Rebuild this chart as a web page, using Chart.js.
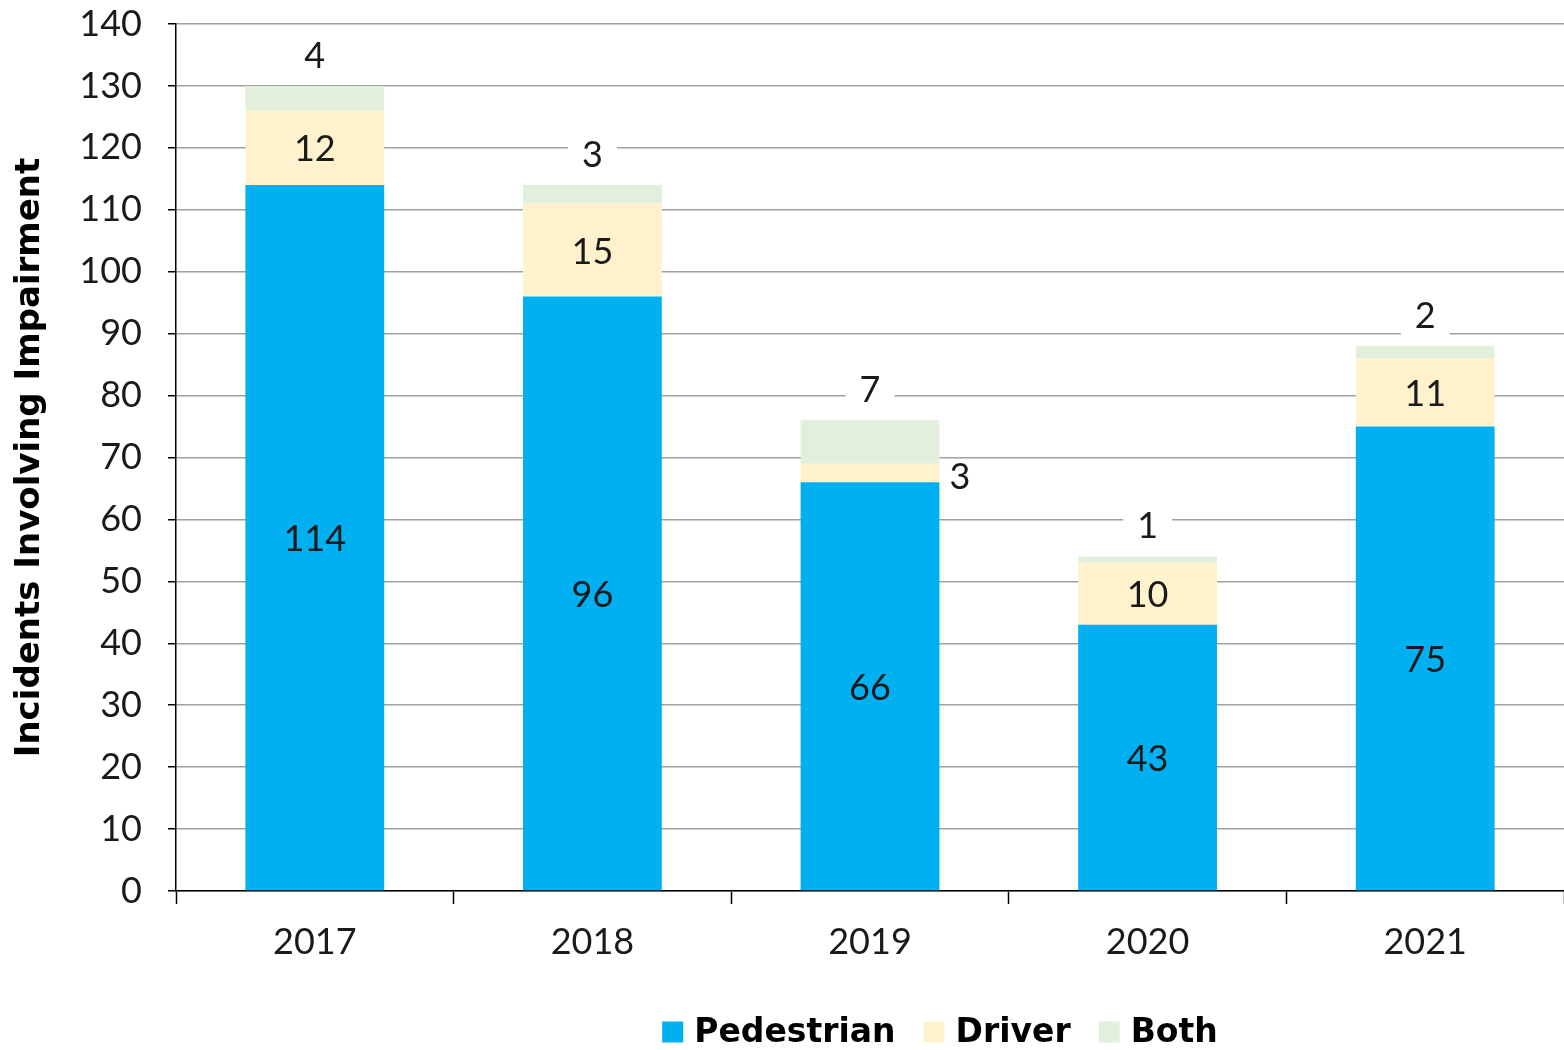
<!DOCTYPE html>
<html>
<head>
<meta charset="utf-8">
<script src="https://cdn.jsdelivr.net/npm/chart.js@4/dist/chart.umd.min.js"></script>
<style>
  html, body { margin: 0; padding: 0; background: #fff; }
  #wrap { width: 1564px; height: 1050px; }
</style>
</head>
<body>
<div id="wrap"><canvas id="chart"></canvas></div>
<script>
const years = ['2017', '2018', '2019', '2020', '2021']
const pedestrian = [114, 96, 66, 43, 75]
const driver = [12, 15, 3, 10, 11]
const both = [4, 3, 7, 1, 2]

const FONT = 'Lato, "Open Sans", sans-serif'
const BOLD = '"DejaVu Sans", sans-serif'

// draws the numbers on the bars, "Both" goes above the stack on a white box
const barLabels = {
    id: 'barLabels',
    afterDatasetsDraw(chart) {
        const ctx = chart.ctx
        ctx.save()
        ctx.font = '36px ' + FONT
        ctx.fillStyle = '#1a1a1a'
        ctx.textAlign = 'center'
        ctx.textBaseline = 'middle'
        chart.data.datasets.forEach((ds, i) => {
            const meta = chart.getDatasetMeta(i)
            meta.data.forEach((bar, j) => {
                const txt = String(ds.data[j])
                const h = bar.base - bar.y
                if (i == 2) {
                    const y = bar.y - 30
                    const w = ctx.measureText(txt).width + 28
                    ctx.fillStyle = '#fff'
                    ctx.fillRect(bar.x - w / 2, y - 20, w, 40)
                    ctx.fillStyle = '#1a1a1a'
                    ctx.fillText(txt, bar.x, y)
                } else if (h < 25) {
                    ctx.textAlign = 'left'
                    ctx.fillText(txt, bar.x + bar.width / 2 + 10, bar.y + h / 2 + 4)
                    ctx.textAlign = 'center'
                } else {
                    ctx.fillText(txt, bar.x, bar.y + h / 2 + 2)
                }
            })
        })
        ctx.restore()
    }
}

// legend drawn by hand so it can sit where the original one sits
const bottomLegend = {
    id: 'bottomLegend',
    afterDraw(chart) {
        const ctx = chart.ctx
        const sets = chart.data.datasets
        const box = 21, gap = 11, space = 28
        ctx.save()
        ctx.font = 'bold 33px ' + BOLD
        ctx.textBaseline = 'middle'
        let total = 0
        sets.forEach((ds, i) => {
            total += box + gap + ctx.measureText(ds.label).width
            if (i < sets.length - 1) total += space
        })
        let x = 940 - total / 2
        const y = 1032
        sets.forEach(ds => {
            ctx.fillStyle = ds.backgroundColor
            ctx.fillRect(x, y - box / 2, box, box)
            x += box + gap
            ctx.fillStyle = '#000'
            ctx.fillText(ds.label, x, y + 1)
            x += ctx.measureText(ds.label).width + space
        })
        ctx.restore()
    }
}

new Chart(document.getElementById('chart'), {
    type: 'bar',
    data: {
        labels: years,
        datasets: [
            { label: 'Pedestrian', data: pedestrian, backgroundColor: '#00b0f0' },
            { label: 'Driver', data: driver, backgroundColor: '#fff2cc' },
            { label: 'Both', data: both, backgroundColor: '#e2efda' }
        ]
    },
    options: {
        responsive: true,
        maintainAspectRatio: false,
        animation: false,
        layout: { padding: { top: 0, right: 0, left: 0, bottom: 75 } },
        datasets: {
            bar: { categoryPercentage: 1, barPercentage: 0.5, borderWidth: 0 }
        },
        plugins: {
            tooltip: { enabled: false },
            legend: { display: false }
        },
        scales: {
            x: {
                stacked: true,
                afterFit: (scale) => { scale.height = 84 },
                grid: {
                    offset: true,
                    drawOnChartArea: false,
                    tickLength: 13,
                    tickColor: '#000',
                    tickWidth: 1.5
                },
                border: { color: '#000', width: 1.5 },
                ticks: {
                    font: { family: FONT, size: 36 },
                    color: '#1a1a1a',
                    padding: 17
                }
            },
            y: {
                stacked: true,
                min: 0,
                max: 140,
                afterFit: (scale) => {
                    scale.width = 176
                    scale.paddingTop = 24
                },
                grid: {
                    color: '#a0a0a0',
                    lineWidth: 1.5,
                    tickColor: '#000',
                    tickLength: 8
                },
                border: { color: '#000', width: 1.5 },
                ticks: {
                    stepSize: 10,
                    font: { family: FONT, size: 36 },
                    color: '#1a1a1a',
                    padding: 26
                },
                title: {
                    display: true,
                    text: 'Incidents Involving Impairment',
                    font: { family: BOLD, size: 34, weight: 'bold' },
                    color: '#000',
                    padding: { top: 10, bottom: 0 }
                }
            }
        }
    },
    plugins: [barLabels, bottomLegend]
})
</script>
</body>
</html>
